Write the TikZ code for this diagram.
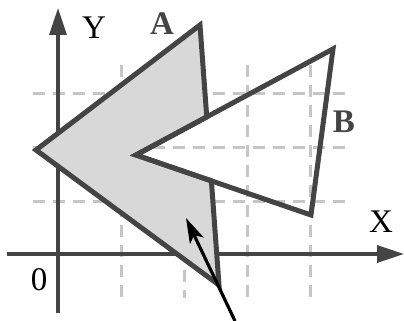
\documentclass[tikz,border=0pt]{standalone}
\usepackage{fontspec}
\setmainfont{Liberation Serif}
\usetikzlibrary{arrows.meta}
\definecolor{outl}{HTML}{444444}
\definecolor{fillA}{HTML}{D8D8D8}
\definecolor{gridc}{HTML}{C6C6C6}
\tikzset{
  gridline/.style={draw=gridc, line width=3pt, dash pattern=on 12pt off 8pt},
  axisline/.style={draw=outl, line width=3.4pt, -{Triangle[length=27pt,width=17pt]}},
  shapeline/.style={draw=outl, line width=5pt, line join=miter},
  pointer/.style={draw=black, line width=3.2pt, -{Stealth[length=25pt,width=15pt,inset=6pt]}},
  lbl/.style={inner sep=0pt, anchor=base, font=\fontsize{33}{36}\selectfont},
  shapelbl/.style={lbl, text=outl, font=\fontsize{33}{36}\selectfont\bfseries}
}
\begin{document}
\begin{tikzpicture}[x=1pt,y=-1pt]
\useasboundingbox (0,0) rectangle (404,321);
% grid
\foreach \yy in {93,147,201} {\draw[gridline] (33,\yy) -- (345,\yy);}
\foreach \xx in {121,247,310} {\draw[gridline] (\xx,65) -- (\xx,298);}
\draw[gridline] (184,210) -- (184,298);
% axes
\coordinate (xs) at (7,254);
\coordinate (xe) at (404,254);
\coordinate (ys) at (58,313);
\coordinate (ye) at (58,8);
\draw[axisline] (xs) -- (xe);
\draw[axisline] (ys) -- (ye);
% shape A and B
\coordinate (At) at (200,25);
\coordinate (Al) at (36,150);
\coordinate (Ab) at (219,285);
\coordinate (Bn) at (136,155);
\coordinate (Bt) at (333,49);
\coordinate (Bb) at (311,215);
\coordinate (i1) at (intersection of At--Ab and Bn--Bt);
\coordinate (i2) at (intersection of At--Ab and Bn--Bb);
\path[shapeline, fill=fillA] (At) -- (i1) -- (Bn) -- (i2) -- (Ab) -- (Al) -- cycle;
\draw[shapeline] (Bn) -- (Bt) -- (Bb) -- cycle;
% pointer
\coordinate (ptail) at (235,321);
\coordinate (ptip) at (186,218);
\draw[pointer] (ptail) -- (ptip);
% labels
\node[lbl] (ly) at (94,38) {Y};
\node[lbl] (lx) at (381,232) {X};
\node[lbl] (l0) at (39,290) {0};
\node[shapelbl] (la) at (162,35) {A};
\node[shapelbl] (lb) at (344,132) {B};
\end{tikzpicture}
\end{document}
